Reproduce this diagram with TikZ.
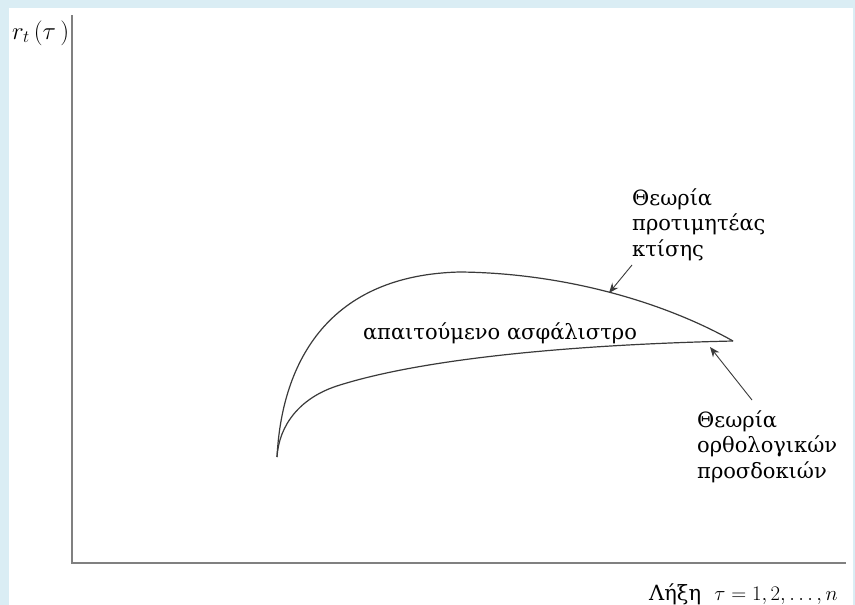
\documentclass[tikz,border=0pt]{standalone}
\usepackage{fontspec}
\usepackage{amsmath}
\setmainfont{DejaVu Serif}
\usepackage{tikz}
\usetikzlibrary{arrows.meta,positioning}

\definecolor{frameblue}{HTML}{DAEDF4}
\definecolor{axisgray}{HTML}{808080}
\definecolor{curvegray}{HTML}{3A3A3A}

\begin{document}
\begin{tikzpicture}[
    x=1pt, y=-1pt,
    axis/.style={draw=axisgray, line width=1.8pt},
    curve/.style={draw=curvegray, line width=1.2pt},
    pointer/.style={draw=curvegray, line width=0.9pt, -{Stealth[length=10pt, width=8pt]}},
    label/.style={font=\fontsize{21}{25.5}\selectfont, align=left, inner sep=0pt},
    >=Stealth
]

% Frame
\useasboundingbox (0,0) rectangle (855,605);
\fill[frameblue] (0,0) rectangle (855,605);
\fill[white] (9,8) rectangle (853,605);

% Axes
\coordinate (origin) at (72,563);
\coordinate (ytop) at (72,15);
\coordinate (xend) at (846,563);
\draw[axis] (ytop) -- (origin) -- (xend);
\node[anchor=base west, inner sep=0pt, font=\fontsize{25}{28}\selectfont] (ylab) at (12,39) {$r_t\,(\tau\,)$};
\node[anchor=base east, inner sep=0pt, font=\fontsize{21}{24}\selectfont] (xlab) at (838,600) {Λήξη\ \ $\tau = 1, 2, \ldots, n$};

% Curves
\coordinate (start) at (277,457);
\coordinate (peak) at (460,272);
\coordinate (branch) at (340,385);
\coordinate (apex) at (733,341);
\draw[curve] (start) .. controls (282,360) and (330,275) .. (peak)
                     .. controls (560,273) and (660,300) .. (apex);
\draw[curve] (start) .. controls (279,425) and (300,397) .. (branch)
                     .. controls (420,360) and (560,345) .. (apex);

\node[label, anchor=base] (premium) at (500,339) {απαιτούμενο ασφάλιστρο};

% Labels
\node[label, anchor=base west] (pref) at (632,256) {Θεωρία\\προτιμητέας\\κτίσης};
\node[label, anchor=base west] (ratexp) at (697,478) {Θεωρία\\ορθολογικών\\προσδοκιών};

% Pointers
\coordinate (prefTail) at (632,265);
\coordinate (prefTip) at (609,293);
\coordinate (ratTail) at (752,400);
\coordinate (ratTip) at (710,347);
\draw[pointer] (prefTail) -- (prefTip);
\draw[pointer] (ratTail) -- (ratTip);

\end{tikzpicture}
\end{document}
